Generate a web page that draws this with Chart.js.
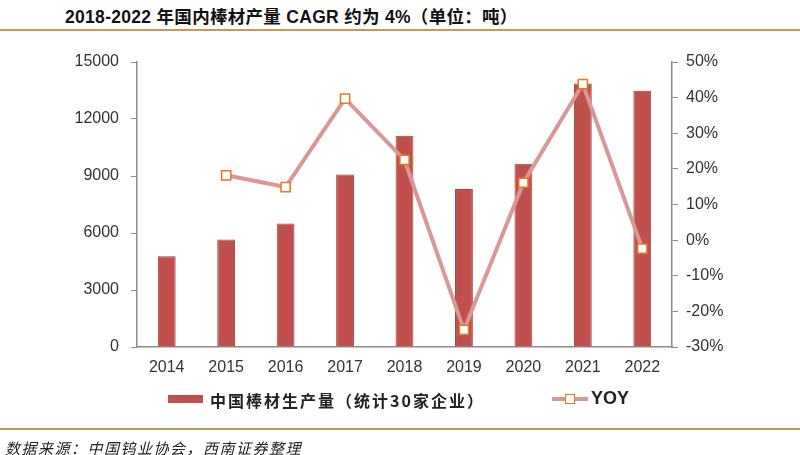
<!DOCTYPE html>
<html lang="zh">
<head>
<meta charset="UTF-8">
<title>棒材产量</title>
<script src="https://cdn.jsdelivr.net/npm/chart.js"></script>
<style>
  body { margin: 0; width: 800px; height: 455px; background: #fff; position: relative; overflow: hidden;
         font-family: "Liberation Sans", "Noto Sans CJK SC", sans-serif; }
  #title { position: absolute; left: 65px; top: 3px; font-size: 17.5px; font-weight: bold; color: #111; white-space: nowrap; letter-spacing: 0.3px; }
  .rule { position: absolute; left: 0; width: 800px; height: 2px; background: #C49A52; }
  #wrap { position: absolute; left: 0; top: 0; width: 800px; height: 455px; }
  .leg { position: absolute; white-space: nowrap; color: #222; font-weight: bold; }
  #source { position: absolute; left: 5px; top: 437px; font-size: 15px; font-style: italic; letter-spacing: 1.5px;
            color: #222; font-family: "Noto Sans CJK SC", sans-serif; white-space: nowrap; }
</style>
</head>
<body>
<div id="title">2018-2022 年国内棒材产量 CAGR 约为 4%（单位：吨）</div>
<div class="rule" style="top:29px"></div>
<div id="wrap"><canvas id="c" width="800" height="455"></canvas></div>

<div class="leg" style="left:168px;top:395px;width:35px;height:8px;background:#C0504D;"></div>
<div class="leg" style="left:210px;top:388px;font-size:16px;letter-spacing:2px;font-family:'Noto Sans CJK SC',sans-serif;">中国棒材生产量（统计30家企业）</div>
<div class="leg" style="left:552px;top:397px;width:36px;height:4px;background:#D99795;"></div>
<div class="leg" style="left:565px;top:394px;width:8px;height:8px;background:#fff;border:1.5px solid #E8771E;"></div>
<div class="leg" style="left:591px;top:388px;font-size:18px;">YOY</div>

<div class="rule" style="top:428px"></div>
<div id="source">数据来源：中国钨业协会，西南证券整理</div>

<script>
// 年份
const years = ['2014', '2015', '2016', '2017', '2018', '2019', '2020', '2021', '2022'];
// 中国棒材生产量（吨）
const output = [4770, 5660, 6500, 9080, 11120, 8320, 9650, 13870, 13490];
// 同比增速（%）
const yoy = [null, 18.2, 14.9, 39.7, 22.5, -25.2, 16.1, 43.8, -2.4];

const tickFont = { family: 'Liberation Sans', size: 16 };
const axisGray = '#8c8c8c';

new Chart(document.getElementById('c'), {
  type: 'bar',
  data: {
    labels: years,
    datasets: [
      {
        type: 'line',
        label: 'YOY',
        data: yoy,
        yAxisID: 'y2',
        borderColor: '#D99795',
        borderWidth: 4,
        spanGaps: true,
        tension: 0,
        pointStyle: 'rect',
        pointRadius: 6.5,
        pointBackgroundColor: '#fff',
        pointBorderColor: '#E8771E',
        pointBorderWidth: 1.5,
        order: 0
      },
      {
        label: '中国棒材生产量（统计30家企业）',
        data: output,
        yAxisID: 'y',
        backgroundColor: '#C0504D',
        borderColor: '#A8413E',
        borderWidth: 1,
        barPercentage: 0.3,
        categoryPercentage: 1,
        order: 1
      }
    ]
  },
  options: {
    responsive: false,
    animation: false,
    layout: { padding: { top: 62, bottom: 78, left: 0, right: 0 } },
    plugins: { legend: { display: false }, tooltip: { enabled: false } },
    scales: {
      x: {
        grid: { display: false, drawTicks: false },
        border: { color: axisGray, width: 1.5 },
        ticks: { font: tickFont, color: '#333', padding: 11 },
        afterFit: s => { s.height = 30; }
      },
      y: {
        position: 'left',
        min: 0, max: 15000,
        grid: { drawOnChartArea: false, tickLength: 6, color: axisGray },
        border: { color: axisGray, width: 1.5 },
        ticks: { stepSize: 3000, font: tickFont, color: '#333', padding: 12, callback: v => String(v) },
        afterFit: s => { s.width = 137; }
      },
      y2: {
        position: 'right',
        min: -30, max: 50,
        grid: { drawOnChartArea: false, tickLength: 6, color: axisGray },
        border: { color: axisGray, width: 1.5 },
        ticks: { stepSize: 10, font: tickFont, color: '#333', padding: 8, callback: v => v + '%' },
        afterFit: s => { s.width = 128; }
      }
    }
  }
});
</script>
</body>
</html>
